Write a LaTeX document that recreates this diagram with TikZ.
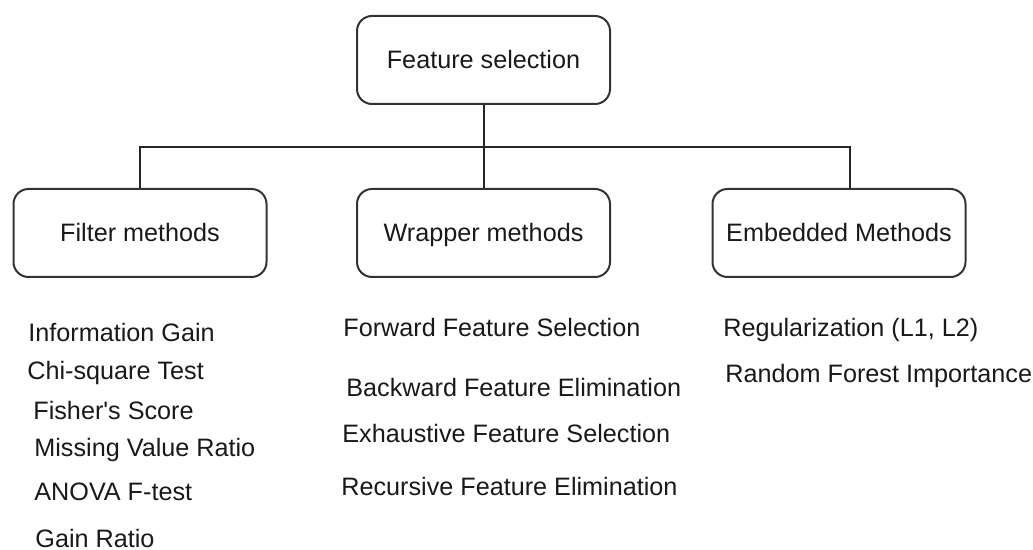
\documentclass[tikz,border=0pt]{standalone}
\usepackage{fontspec}
\setmainfont{Liberation Sans}
\begin{document}
\begin{tikzpicture}[x=0.5pt,y=-0.5pt,
  box/.style={draw=black!80,line width=1pt,rounded corners=7.5pt,minimum width=126.5pt,minimum height=44pt,inner sep=0pt,text height=10pt,text depth=1pt,font=\fontsize{12.6}{15}\selectfont,text=black!90},
  item/.style={anchor=base west,inner sep=0pt,font=\fontsize{12.6}{15}\selectfont,text=black!90},
  link/.style={draw=black!85,line width=1pt}]
\useasboundingbox (0,0) rectangle (1033,550);
\node[box] (fs) at (483.5,60) {Feature selection};
\node[box] (filt) at (140,233) {Filter methods};
\node[box] (wrap) at (483.5,233) {Wrapper methods};
\node[box] (emb) at (839,233) {Embedded Methods};
\coordinate (bus) at (483.5,147);
\draw[link] (fs.south) -- (wrap.north);
\draw[link] (filt.north) |- (bus) -| ([xshift=5.5pt]emb.north);
\node[item] (ig) at (28,342) {Information Gain};
\node[item] (chi) at (27,380) {Chi-square Test};
\node[item] (fis) at (33,420) {Fisher\textquotesingle s Score};
\node[item] (mvr) at (34,457) {Missing Value Ratio};
\node[item] (anova) at (34,500) {ANOVA F-test};
\node[item] (gr) at (35,547) {Gain Ratio};
\node[item] (ffs) at (343,337) {Forward Feature Selection};
\node[item] (bfe) at (346,397) {Backward Feature Elimination};
\node[item] (efs) at (342,443) {Exhaustive Feature Selection};
\node[item] (rfe) at (341,495) {Recursive Feature Elimination};
\node[item] (reg) at (723,337) {Regularization (L1, L2)};
\node[item] (rfi) at (725,383) {Random Forest Importance};
\end{tikzpicture}
\end{document}
